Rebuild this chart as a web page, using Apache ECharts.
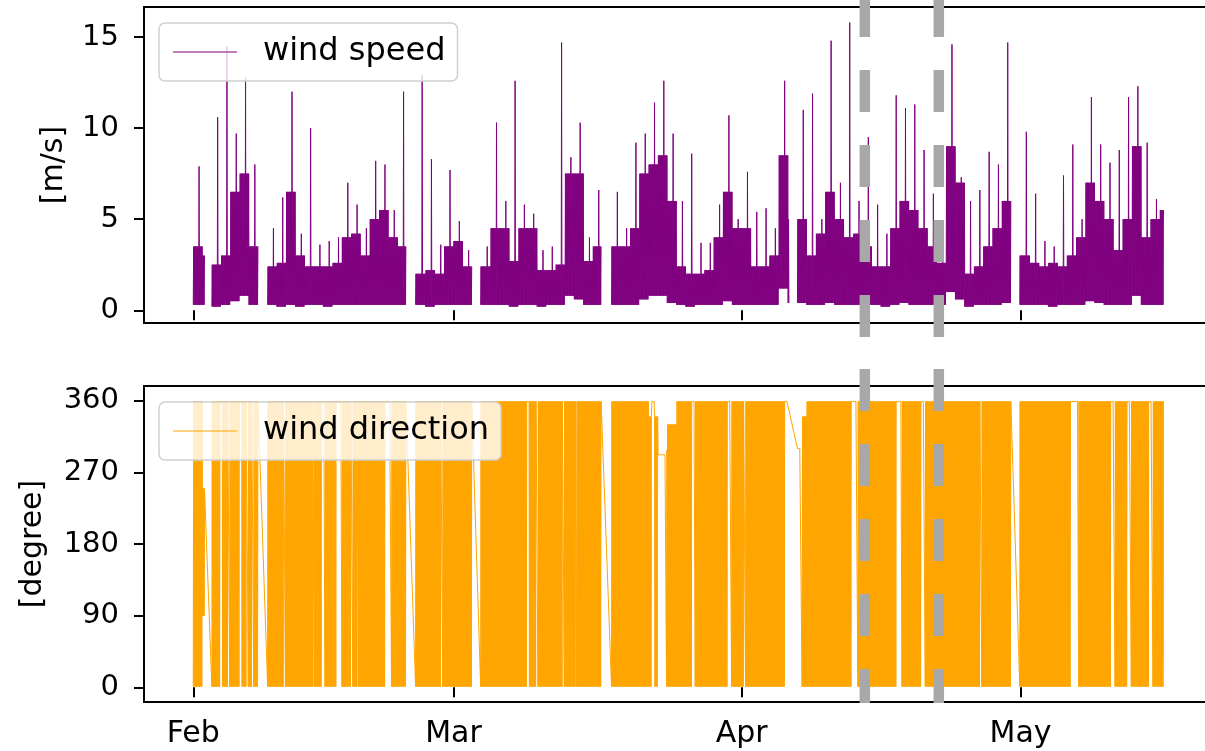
<!DOCTYPE html>
<html>
<head>
    <meta charset="utf-8">
    <title>wind speed / wind direction</title>
    <script src="https://cdn.jsdelivr.net/npm/echarts@6/dist/echarts.min.js"></script>
    <style>
        html, body {margin: 0; padding: 0; background: #fff; overflow: hidden;}
        /* the figure is wider than the window: its right edge is cut off like in the original */
        #main {width: 1225px; height: 751px;}
    </style>
</head>
<body>
<div id="main"></div>
<script>
    // ---- data (one entry per day, day 0 = 1 Feb 2023) ----
    var monthLabels = ['Feb', 'Mar', 'Apr', 'May'];
    var monthTicks = [Date.UTC(2023, 1, 1), Date.UTC(2023, 2, 1), Date.UTC(2023, 3, 1), Date.UTC(2023, 4, 1)];
    var speedTicks = [0, 5, 10, 15];
    var dirTicks = [0, 90, 180, 270, 360];
    var eventTimes = [Date.UTC(2023, 3, 14, 6), Date.UTC(2023, 3, 22, 5)];

    // typical upper level of the dense band
    var speedBody = [
        3.5, 3.0, 2.5, 3.0, 6.5, 7.5, 3.5, 2.4, 2.4, 2.6,
        6.5, 3.0, 2.4, 2.4, 2.4, 2.6, 4.0, 4.2, 3.0, 5.0,
        5.5, 4.0, 3.5, 2.0, 2.0, 2.2, 2.0, 3.5, 3.8, 2.4,
        2.4, 2.4, 4.5, 4.5, 2.7, 4.5, 4.5, 2.2, 2.2, 2.5,
        7.5, 7.5, 2.7, 3.5, 3.5, 3.5, 3.5, 4.5, 7.5, 8.0,
        8.5, 6.0, 2.4, 2.0, 2.0, 2.2, 4.0, 6.5, 4.5, 4.5,
        2.4, 2.4, 3.0, 8.5, 5.0, 5.0, 3.0, 4.2, 6.5, 5.0,
        4.0, 4.2, 3.5, 2.4, 2.4, 4.5, 6.0, 5.5, 4.5, 3.5,
        2.6, 9.0, 7.0, 2.0, 2.4, 3.5, 4.5, 6.0, 3.0, 3.0,
        2.6, 2.4, 2.6, 2.4, 3.0, 4.0, 7.0, 6.0, 5.0, 3.3,
        5.0, 9.0, 4.0, 5.0, 5.5
    ];
    // daily maximum (gusts)
    var speedPeak = [
        7.9, 5.9, 10.6, 14.5, 9.7, 12.8, 8.0, 3.0, 4.5, 6.2,
        12.0, 4.2, 10.0, 3.6, 3.8, 4.0, 7.0, 5.8, 4.5, 8.2,
        8.0, 5.5, 12.0, 3.0, 12.9, 8.3, 3.6, 7.7, 4.9, 3.3,
        3.0, 3.5, 10.3, 6.0, 12.6, 5.8, 5.3, 3.3, 3.5, 14.7,
        8.4, 10.3, 4.0, 6.6, 4.0, 6.5, 4.5, 9.2, 9.7, 11.4,
        12.6, 9.7, 6.0, 8.6, 3.7, 3.7, 5.8, 10.7, 5.0, 7.6,
        5.4, 5.6, 4.5, 12.6, 6.0, 11.0, 11.9, 5.0, 14.8, 7.0,
        15.8, 6.0, 9.5, 5.8, 4.2, 11.8, 11.1, 11.3, 8.8, 6.4,
        4.0, 14.6, 7.3, 6.0, 6.6, 8.7, 8.0, 14.7, 4.0, 9.8,
        6.4, 3.8, 3.5, 7.4, 9.1, 5.0, 11.7, 9.1, 8.1, 8.8,
        11.7, 12.3, 9.2, 6.1, 6.1
    ];
    // daily minimum
    var speedLow = [
        0.3, 0.3, 0.2, 0.3, 0.5, 0.8, 0.3, 0.3, 0.3, 0.2,
        0.3, 0.2, 0.3, 0.3, 0.2, 0.3, 0.3, 0.3, 0.3, 0.3,
        0.3, 0.3, 0.3, 0.3, 0.3, 0.2, 0.3, 0.3, 0.3, 0.3,
        0.3, 0.3, 0.3, 0.3, 0.2, 0.3, 0.3, 0.2, 0.3, 0.3,
        0.8, 0.6, 0.3, 0.3, 0.3, 0.3, 0.3, 0.3, 0.6, 0.8,
        0.8, 0.4, 0.3, 0.2, 0.3, 0.3, 0.3, 0.5, 0.3, 0.3,
        0.3, 0.3, 0.3, 1.2, 0.4, 0.4, 0.3, 0.3, 0.4, 0.3,
        0.3, 0.3, 0.3, 0.3, 0.2, 0.3, 0.4, 0.3, 0.3, 0.3,
        0.3, 1.0, 0.6, 0.2, 0.3, 0.3, 0.3, 0.4, 0.3, 0.3,
        0.3, 0.3, 0.2, 0.3, 0.3, 0.3, 0.5, 0.4, 0.3, 0.3,
        0.3, 0.8, 0.3, 0.3, 0.3
    ];
    // daily range of the direction swings [degree]
    var dirLow = [
        1, 90, 1, 1, 1, 1, 1, 1, 1, 1,
        1, 1, 1, 1, 1, 1, 1, 1, 1, 1,
        1, 1, 1, 1, 1, 1, 1, 1, 1, 1,
        1, 1, 1, 1, 1, 1, 1, 1, 1, 1,
        1, 1, 1, 1, 1, 1, 1, 1, 1, 1,
        1, 1, 1, 1, 1, 1, 1, 1, 1, 1,
        1, 1, 1, 1, 1, 1, 1, 1, 1, 1,
        1, 1, 1, 1, 1, 1, 1, 1, 1, 1,
        1, 1, 1, 1, 1, 1, 1, 1, 1, 1,
        1, 1, 1, 1, 1, 1, 1, 1, 1, 1,
        1, 1, 1, 1, 1
    ];
    var dirHigh = [
        359, 250, 359, 359, 359, 359, 359, 359, 359, 359,
        359, 359, 359, 359, 359, 359, 359, 359, 359, 359,
        359, 359, 359, 359, 359, 359, 359, 359, 359, 359,
        359, 359, 359, 359, 359, 359, 359, 359, 359, 359,
        359, 359, 359, 359, 359, 359, 359, 359, 359, 340,
        298, 330, 359, 359, 359, 359, 359, 359, 359, 359,
        359, 359, 359, 359, 359, 340, 359, 359, 359, 359,
        359, 359, 359, 359, 359, 359, 359, 359, 359, 359,
        359, 359, 359, 359, 359, 359, 359, 359, 359, 359,
        359, 359, 359, 359, 359, 359, 359, 359, 359, 359,
        359, 359, 359, 359, 359
    ];
    // spells (start day, end day, degree) where the direction held steady
    var steadySpells = [
        [2.9, 3.1, 359], [3.7, 3.9, 359], [5.0, 5.25, 359], [5.7, 5.9, 359], [6.3, 6.5, 359],
        [9.7, 9.9, 359], [12.85, 12.95, 359], [13.8, 14.1, 359], [15.4, 16.0, 359], [17.0, 17.1, 359],
        [17.6, 17.75, 359], [20.6, 21.3, 359], [26.6, 26.8, 359], [35.9, 36.1, 359], [36.9, 37.05, 359],
        [39.75, 39.85, 359], [41.15, 41.25, 359], [49.3, 49.6, 359], [50.0, 50.9, 292], [53.6, 54.0, 359],
        [57.5, 57.9, 359], [59.25, 59.35, 359], [63.6, 64.1, 359], [65.0, 65.5, 300], [70.8, 71.5, 359],
        [75.6, 76.2, 359], [78.3, 78.7, 359], [84.6, 84.8, 359], [94.4, 95.2, 359], [98.7, 99.1, 359],
        [100.5, 100.9, 359], [102.8, 103.2, 359]
    ];
    // missing records (in days)
    var gapDays = [[1.25, 2.0], [7.0, 8.0], [22.9, 23.9], [30.0, 30.9], [43.9, 45.0], [64.1, 65.0], [88.0, 88.9]];
    var lastDay = 104.4;

    //==============
    var DAY = 86400000;
    var start = monthTicks[0];
    var STEPS = 24;

    function find(list, t) {
        for (var i = 0; i < list.length; i++) {
            if (t >= list[i][0] && t < list[i][1]) return list[i];
        }
        return null;
    }

    var speedData = [], dirData = [];
    var inHole = false;
    for (var d = 0; d < speedBody.length; d++) {
        for (var k = 0; k < STEPS; k++) {
            var t = d + k / STEPS;
            if (t > lastDay) break;
            var ts = start + t * DAY;
            if (find(gapDays, t)) {
                if (!inHole) speedData.push([ts, '-']);
                inHole = true;
                continue;
            }
            inHole = false;
            var v = k === 15 ? speedPeak[d] : (k % 2 ? speedBody[d] : speedLow[d]);
            speedData.push([ts, v]);
            var spell = find(steadySpells, t);
            var w = spell ? spell[2] : (k % 2 ? dirHigh[d] : dirLow[d]);
            dirData.push([ts, w]);
        }
    }

    var font = 'DejaVu Sans';
    var xMin = start - 5.3 * DAY, xMax = start + 109.6 * DAY;

    function monthName(v) {
        var i = monthTicks.indexOf(v);
        return i < 0 ? '' : monthLabels[i];
    }

    function xAxisFor(idx, labels) {
        return {
            gridIndex: idx, type: 'value', min: xMin, max: xMax,
            splitLine: {show: false},
            axisLine: {show: false},
            axisTick: {show: true, length: 10, customValues: monthTicks, lineStyle: {color: '#000', width: 2}},
            axisLabel: {show: labels, customValues: monthTicks, formatter: monthName, fontSize: 30, fontFamily: font, color: '#000', margin: 17}
        };
    }

    function yAxisFor(idx, mn, mx, ticks, name, gap) {
        return {
            gridIndex: idx, type: 'value', min: mn, max: mx,
            splitLine: {show: false},
            axisLine: {show: false},
            axisTick: {show: true, length: 10, customValues: ticks, lineStyle: {color: '#000', width: 2}},
            axisLabel: {customValues: ticks, fontSize: 29, fontFamily: font, color: '#000', margin: 25},
            name: name, nameLocation: 'middle', nameGap: gap, nameRotate: 90,
            nameTextStyle: {fontSize: 30, fontFamily: font, color: '#000'}
        };
    }

    function legendFor(name, top) {
        return {
            data: [name], left: 159, top: top, orient: 'horizontal',
            selectedMode: false, icon: 'rect', itemWidth: 64, itemHeight: 1,
            padding: [11, 12, 11, 14],
            backgroundColor: 'rgba(255,255,255,0.8)', borderColor: '#d0d0d0', borderWidth: 1.5, borderRadius: 6,
            textStyle: {fontSize: 32, fontFamily: font, color: '#000', lineHeight: 36, padding: [0, 0, 0, 21]}
        };
    }

    var chart = echarts.init(document.getElementById('main'), null, {renderer: 'canvas'});
    var option = {
        animation: false,
        backgroundColor: '#fff',
        grid: [
            {left: 144, top: 7, width: 1068, height: 316, show: true, borderColor: '#000', borderWidth: 2},
            {left: 144, top: 386, width: 1068, height: 316, show: true, borderColor: '#000', borderWidth: 2}
        ],
        legend: [legendFor('wind speed', 23), legendFor('wind direction', 402)],
        xAxis: [xAxisFor(0, false), xAxisFor(1, true)],
        yAxis: [
            yAxisFor(0, -0.7, 16.65, speedTicks, '[m/s]', 75),
            yAxisFor(1, -18.4, 378.4, dirTicks, '[degree]', 96)
        ],
        series: [
            {
                name: 'wind speed', type: 'line', xAxisIndex: 0, yAxisIndex: 0,
                data: speedData, showSymbol: false, symbol: 'none', connectNulls: false,
                lineStyle: {color: '#800080', width: 1}, itemStyle: {color: '#800080'}
            },
            {
                name: 'wind direction', type: 'line', xAxisIndex: 1, yAxisIndex: 1,
                data: dirData, showSymbol: false, symbol: 'none',
                lineStyle: {color: '#ffa500', width: 1}, itemStyle: {color: '#ffa500'}
            }
        ]
    };
    chart.setOption(option);

    // grey dashed markers, placed through the x axis scale
    var dash = {stroke: '#a8a8a8', lineWidth: 10.5, lineDash: [42, 33]};
    var marks = [];
    eventTimes.forEach(function (t) {
        var x = chart.convertToPixel({xAxisIndex: 0}, t);
        marks.push({type: 'line', z: 100, shape: {x1: x, y1: 337, x2: x, y2: -20}, style: dash});
        marks.push({type: 'line', z: 100, shape: {x1: x, y1: 369, x2: x, y2: 703}, style: dash});
    });
    chart.setOption({graphic: marks});
</script>
</body>
</html>
